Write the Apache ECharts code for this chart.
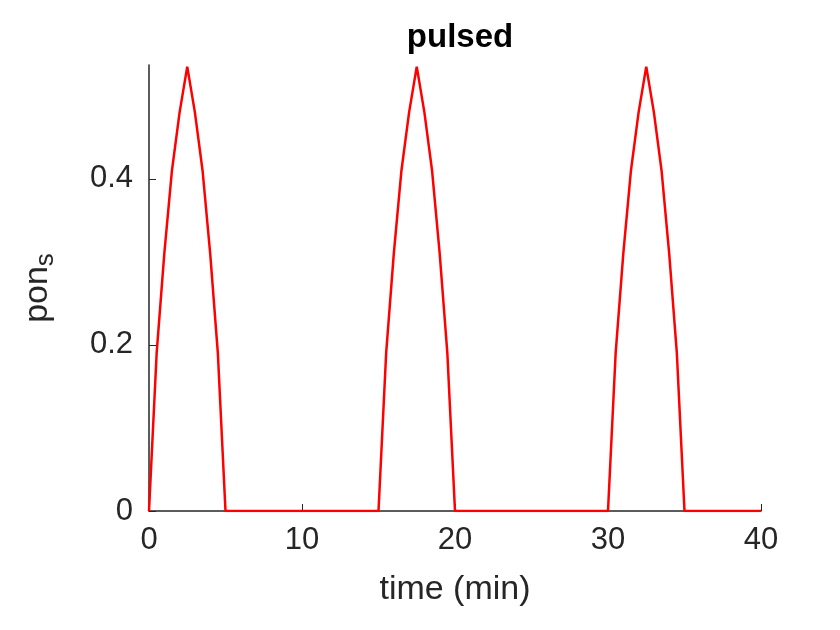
<!DOCTYPE html>
<html>
<head>
<meta charset="utf-8">
<script src="https://cdn.jsdelivr.net/npm/echarts@6/dist/echarts.min.js"></script>
<style>html,body{margin:0;padding:0;background:#fff}</style>
</head>
<body>
<div id="chart" style="width:840px;height:630px"></div>
<script>
// time (min) and pon_s values
const times = [0, 0.5, 1, 1.5, 2, 2.5, 3, 3.5, 4, 4.5, 5,
    15, 15.5, 16, 16.5, 17, 17.5, 18, 18.5, 19, 19.5, 20,
    30, 30.5, 31, 31.5, 32, 32.5, 33, 33.5, 34, 34.5, 35, 40];
const pons = [0, 0.19, 0.31, 0.41, 0.48, 0.535, 0.48, 0.41, 0.31, 0.19, 0,
    0, 0.19, 0.31, 0.41, 0.48, 0.535, 0.48, 0.41, 0.31, 0.19, 0,
    0, 0.19, 0.31, 0.41, 0.48, 0.535, 0.48, 0.41, 0.31, 0.19, 0, 0];
const xTicks = [0, 10, 20, 30, 40];

let dom = document.getElementById('chart');
let myChart = echarts.init(dom, null, {renderer: 'canvas'});
const axisCol = '#262626';
let option = {
    animation: false,
    title: {
        text: 'pulsed',
        left: 455, top: 16, textAlign: 'center',
        textStyle: {fontFamily: 'Liberation Sans', fontWeight: 'bold', fontSize: 33, color: '#000'}
    },
    grid: {left: 149, right: 79, top: 65, bottom: 119},
    xAxis: {
        type: 'value', min: 0, max: 40, interval: 10,
        name: 'time (min)', nameLocation: 'middle', nameGap: 62,
        nameTextStyle: {fontFamily: 'Liberation Sans', fontSize: 34, color: axisCol},
        axisLine: {lineStyle: {color: axisCol, width: 1.5}},
        axisTick: {inside: true, length: 7, lineStyle: {color: axisCol}},
        axisLabel: {fontFamily: 'Liberation Sans', fontSize: 31, color: axisCol, margin: 14,
            formatter: v => xTicks.includes(v) ? String(v) : ''},
        splitLine: {show: false}
    },
    yAxis: {
        type: 'value', min: 0, max: 0.537, interval: 0.2,
        name: '{a|pon}{b|s}', nameLocation: 'middle', nameGap: 90, nameRotate: 90,
        nameTextStyle: {
            rich: {
                a: {fontFamily: 'Liberation Sans', fontSize: 34, color: axisCol},
                b: {fontFamily: 'Liberation Sans', fontSize: 26, color: axisCol, verticalAlign: 'bottom', padding: [16, 0, 0, 0]}
            }
        },
        axisLine: {show: true, lineStyle: {color: axisCol, width: 1.5}},
        axisTick: {show: true, inside: true, length: 7, lineStyle: {color: axisCol}},
        axisLabel: {fontFamily: 'Liberation Sans', fontSize: 31, color: axisCol, margin: 16, showMaxLabel: false,
            formatter: v => v === 0 ? '0' : v.toFixed(1)},
        splitLine: {show: false}
    },
    series: [{
        type: 'line',
        data: times.map((t, i) => [t, pons[i]]),
        showSymbol: false,
        lineStyle: {color: '#ff0000', width: 2.5},
        itemStyle: {color: '#ff0000'}
    }]
};
myChart.setOption(option);
</script>
</body>
</html>
